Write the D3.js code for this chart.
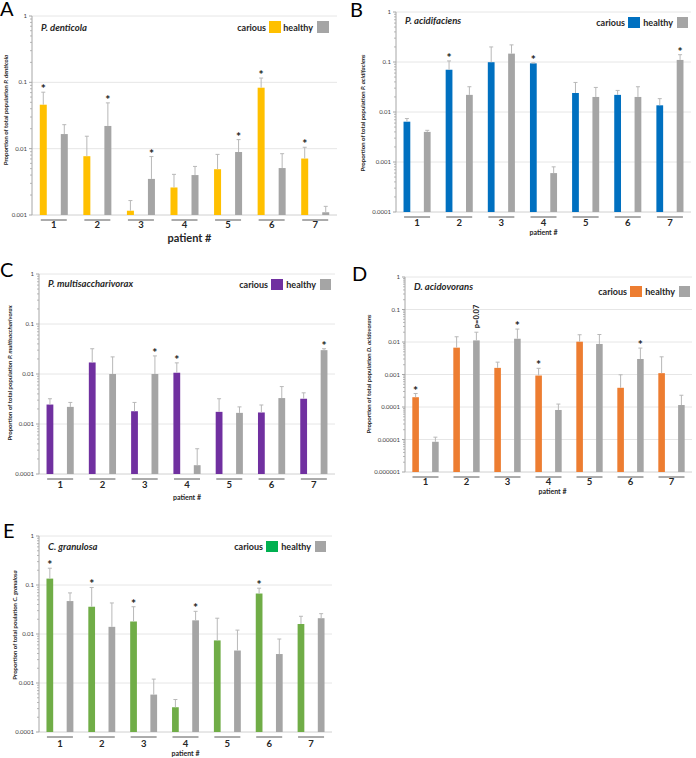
<!DOCTYPE html>
<html>
<head>
<meta charset="utf-8">
<script src="https://cdn.jsdelivr.net/npm/d3@7"></script>
<style>
  body { margin: 0; background: #fff; }
  text { font-family: Lato, "Open Sans", sans-serif; }
</style>
</head>
<body>
<svg id="chart"></svg>
<script>
// patients and groups
const patients = ["1", "2", "3", "4", "5", "6", "7"];
const groups = ["carious", "healthy"];
const grey = "#a5a5a5";

// A - P. denticola
const denticolaCarious    = [0.046, 0.0077, 0.00116, 0.0026, 0.0049, 0.083, 0.0071];
const denticolaCariousErr = [0.071, 0.0154, 0.00165, 0.0041, 0.0082, 0.116, 0.0105];
const denticolaHealthy    = [0.0166, 0.022, 0.0035, 0.0040, 0.0089, 0.0051, 0.0011];
const denticolaHealthyErr = [0.023, 0.049, 0.0076, 0.0054, 0.0137, 0.0084, 0.00135];
const denticolaStarC = [1, 0, 0, 0, 0, 1, 1];
const denticolaStarH = [0, 1, 1, 0, 1, 0, 0];

// B - P. acidifaciens
const acidifaciensCarious    = [0.0064, 0.070, 0.099, 0.094, 0.024, 0.022, 0.0136];
const acidifaciensCariousErr = [0.0074, 0.105, 0.20, 0.096, 0.039, 0.027, 0.0185];
const acidifaciensHealthy    = [0.0040, 0.022, 0.147, 0.0006, 0.020, 0.020, 0.11];
const acidifaciensHealthyErr = [0.0043, 0.032, 0.22, 0.0008, 0.031, 0.032, 0.14];
const acidifaciensStarC = [0, 1, 0, 1, 0, 0, 0];
const acidifaciensStarH = [0, 0, 0, 0, 0, 0, 1];

// C - P. multisaccharivorax
const multiCarious    = [0.00245, 0.017, 0.0018, 0.0106, 0.00175, 0.0017, 0.0032];
const multiCariousErr = [0.0032, 0.032, 0.0027, 0.0167, 0.0032, 0.0024, 0.0042];
const multiHealthy    = [0.0022, 0.010, 0.010, 0.00015, 0.00167, 0.0033, 0.030];
const multiHealthyErr = [0.0027, 0.022, 0.023, 0.00032, 0.0022, 0.0056, 0.032];
const multiStarC = [0, 0, 0, 1, 0, 0, 0];
const multiStarH = [0, 0, 1, 0, 0, 0, 1];

// D - D. acidovorans
const acidovoransCarious    = [0.00020, 0.0067, 0.0016, 0.00093, 0.0102, 0.00039, 0.0011];
const acidovoransCariousErr = [0.00026, 0.0145, 0.0024, 0.00155, 0.0167, 0.00098, 0.0035];
const acidovoransHealthy    = [0.0000085, 0.0112, 0.0126, 0.000081, 0.0087, 0.0030, 0.000115];
const acidovoransHealthyErr = [0.0000118, 0.020, 0.025, 0.000123, 0.017, 0.0065, 0.00023];
const acidovoransStarC = [1, 0, 0, 1, 0, 0, 0];
const acidovoransStarH = [0, 0, 1, 0, 0, 1, 0];
const acidovoransNoteH = ["", "p=0.07", "", "", "", "", ""];

// E - C. granulosa
const granulosaCarious    = [0.135, 0.036, 0.018, 0.00032, 0.0074, 0.067, 0.016];
const granulosaCariousErr = [0.22, 0.089, 0.036, 0.00046, 0.021, 0.086, 0.023];
const granulosaHealthy    = [0.047, 0.014, 0.00058, 0.019, 0.0046, 0.0039, 0.021];
const granulosaHealthyErr = [0.069, 0.043, 0.0012, 0.029, 0.012, 0.0079, 0.026];
const granulosaStarC = [1, 1, 1, 0, 0, 1, 0];
const granulosaStarH = [0, 0, 0, 1, 0, 0, 0];

const svg = d3.select("#chart").attr("width", 696).attr("height", 758);

const panels = [
  { letter: "A", lx: 0, ly: 16, species: "P. denticola", ylabel: "Proportion of total population ",
    color: "#ffc000", legendColor: "#ffc000",
    carious: denticolaCarious, cariousErr: denticolaCariousErr, healthy: denticolaHealthy, healthyErr: denticolaHealthyErr,
    starC: denticolaStarC, starH: denticolaStarH, domain: [0.001, 1],
    left: 32, right: 337, top: 16, bottom: 215, titleY: 31, legRight: 329, legTop: 21, legBox: 12,
    ylx: 8, yly: 110, catDy: 13, xlabelSize: 11, xlabelY: 242, xlabelDx: 5 },
  { letter: "B", lx: 350, ly: 17, species: "P. acidifaciens", ylabel: "Proportion of total population ",
    color: "#0070c0", legendColor: "#0070c0",
    carious: acidifaciensCarious, cariousErr: acidifaciensCariousErr, healthy: acidifaciensHealthy, healthyErr: acidifaciensHealthyErr,
    starC: acidifaciensStarC, starH: acidifaciensStarH, domain: [0.0001, 1],
    left: 396, right: 691, top: 12, bottom: 212, titleY: 24, legRight: 688, legTop: 17, legBox: 11,
    ylx: 365, yly: 113, catDy: 14, xlabelSize: 7, xlabelY: 235, xlabelDx: 0 },
  { letter: "C", lx: 0, ly: 277, species: "P. multisaccharivorax", ylabel: "Proportion of total population ",
    color: "#7030a0", legendColor: "#7030a0",
    carious: multiCarious, cariousErr: multiCariousErr, healthy: multiHealthy, healthyErr: multiHealthyErr,
    starC: multiStarC, starH: multiStarH, domain: [0.0001, 1],
    left: 39, right: 335, top: 274, bottom: 474, titleY: 287, legRight: 331, legTop: 279, legBox: 11,
    ylx: 12, yly: 373, catDy: 14, xlabelSize: 7, xlabelY: 500, xlabelDx: 0 },
  { letter: "D", lx: 352, ly: 281, species: "D. acidovorans", ylabel: "Proportion of total population  ",
    color: "#ed7d31", legendColor: "#ed7d31",
    carious: acidovoransCarious, cariousErr: acidovoransCariousErr, healthy: acidovoransHealthy, healthyErr: acidovoransHealthyErr,
    starC: acidovoransStarC, starH: acidovoransStarH, noteH: acidovoransNoteH, domain: [0.000001, 1],
    left: 405, right: 692, top: 277, bottom: 472, titleY: 290, legRight: 690, legTop: 286, legBox: 11,
    ylx: 371, yly: 374, catDy: 13, xlabelSize: 7, xlabelY: 494, xlabelDx: 4 },
  { letter: "E", lx: 3, ly: 538, species: "C. granulosa", ylabel: "Proportion of total poulation ",
    color: "#70ad47", legendColor: "#00b050",
    carious: granulosaCarious, cariousErr: granulosaCariousErr, healthy: granulosaHealthy, healthyErr: granulosaHealthyErr,
    starC: granulosaStarC, starH: granulosaStarH, domain: [0.0001, 1],
    left: 39, right: 332, top: 536, bottom: 732, titleY: 550, legRight: 326, legTop: 541, legBox: 11,
    ylx: 17, yly: 625, catDy: 15, xlabelSize: 7, xlabelY: 756, xlabelDx: 0 }
];

panels.forEach(drawPanel);

function tickLabel(v) {
  const e = Math.round(Math.log10(v));
  return e >= 0 ? "1" : v.toFixed(-e);
}

function drawPanel(p) {
  const g = svg.append("g");
  const y = d3.scaleLog().domain(p.domain).range([p.bottom, p.top]);
  const x0 = d3.scaleBand().domain(patients).range([p.left, p.right]);
  const x1 = d3.scaleBand().domain(groups).range([0, x0.bandwidth()])
    .paddingInner(0.667).paddingOuter(0.37);

  const lo = Math.round(Math.log10(p.domain[0]));
  const decades = d3.range(lo, 1).map(e => Math.pow(10, e));
  var minors = [];
  for (var e = lo; e < 0; e++) {
    for (var k = 2; k < 10; k++) minors.push(k * Math.pow(10, e));
  }

  // gridlines
  g.selectAll(".grid").data(decades.slice(1)).enter().append("line")
    .attr("x1", p.left).attr("x2", p.right)
    .attr("y1", d => y(d)).attr("y2", d => y(d))
    .attr("stroke", "#e6e6e6").attr("stroke-width", 1);
  // bottom baseline
  g.append("line").attr("x1", p.left).attr("x2", p.right)
    .attr("y1", p.bottom).attr("y2", p.bottom)
    .attr("stroke", "#d0d0d0");

  // y axis
  g.append("line").attr("x1", p.left).attr("x2", p.left)
    .attr("y1", p.top).attr("y2", p.bottom).attr("stroke", "#a6a6a6");
  g.selectAll(".mt").data(minors).enter().append("line")
    .attr("x1", p.left - 2).attr("x2", p.left)
    .attr("y1", d => y(d)).attr("y2", d => y(d))
    .attr("stroke", "#a6a6a6").attr("stroke-width", 0.8);
  g.selectAll(".Mt").data(decades).enter().append("line")
    .attr("x1", p.left - 3).attr("x2", p.left)
    .attr("y1", d => y(d)).attr("y2", d => y(d))
    .attr("stroke", "#a6a6a6");
  g.selectAll(".tl").data(decades).enter().append("text")
    .attr("x", p.left - 5).attr("y", d => y(d) + 2)
    .attr("text-anchor", "end").attr("font-size", 6).attr("fill", "#404040")
    .text(tickLabel);

  // bars
  const rows = patients.map((pt, i) => [
    { pt: pt, grp: "carious", v: p.carious[i], err: p.cariousErr[i], star: p.starC[i], note: "" },
    { pt: pt, grp: "healthy", v: p.healthy[i], err: p.healthyErr[i], star: p.starH[i], note: p.noteH ? p.noteH[i] : "" }
  ]).flat();
  const cx = d => x0(d.pt) + x1(d.grp) + x1.bandwidth() / 2;

  g.selectAll(".bar").data(rows).enter().append("rect")
    .attr("x", d => x0(d.pt) + x1(d.grp))
    .attr("y", d => y(d.v))
    .attr("width", x1.bandwidth())
    .attr("height", d => p.bottom - y(d.v))
    .attr("fill", d => d.grp == "carious" ? p.color : grey);

  // error bars
  g.selectAll(".eb").data(rows).enter().append("line")
    .attr("x1", cx).attr("x2", cx)
    .attr("y1", d => y(d.v)).attr("y2", d => y(d.err))
    .attr("stroke", "#b8b8b8").attr("stroke-width", 1);
  g.selectAll(".cap").data(rows).enter().append("line")
    .attr("x1", d => cx(d) - 2).attr("x2", d => cx(d) + 2)
    .attr("y1", d => y(d.err)).attr("y2", d => y(d.err))
    .attr("stroke", "#b8b8b8").attr("stroke-width", 1);

  // stars
  g.selectAll(".star").data(rows.filter(d => d.star)).enter().append("text")
    .attr("x", cx).attr("y", d => y(d.err) + 1)
    .attr("text-anchor", "middle").attr("font-size", 12).attr("font-weight", "bold")
    .attr("fill", "#222").text("*");
  // p value notes
  g.selectAll(".note").data(rows.filter(d => d.note)).enter().append("text")
    .attr("transform", d => "translate(" + (cx(d) + 3) + "," + (y(d.err) - 4) + ") rotate(-90)")
    .attr("font-size", 7.5).attr("font-weight", "bold").attr("fill", "#222")
    .text(d => d.note);

  // category underlines and labels
  g.selectAll(".ul").data(patients).enter().append("line")
    .attr("x1", d => x0(d) + x0.bandwidth() / 2 - 13)
    .attr("x2", d => x0(d) + x0.bandwidth() / 2 + 13)
    .attr("y1", p.bottom + 5).attr("y2", p.bottom + 5)
    .attr("stroke", "#595959").attr("stroke-width", 1);
  g.selectAll(".cl").data(patients).enter().append("text")
    .attr("x", d => x0(d) + x0.bandwidth() / 2)
    .attr("y", p.bottom + p.catDy)
    .attr("text-anchor", "middle").attr("font-size", 9.5).attr("font-weight", "bold")
    .attr("fill", "#262626").text(d => d);
  g.append("text")
    .attr("x", (p.left + p.right) / 2 + p.xlabelDx).attr("y", p.xlabelY)
    .attr("text-anchor", "middle").attr("font-size", p.xlabelSize).attr("font-weight", "bold")
    .attr("fill", "#262626").text("patient #");

  // y label
  const yl = g.append("text")
    .attr("transform", "translate(" + p.ylx + "," + p.yly + ") rotate(-90)")
    .attr("text-anchor", "middle").attr("font-size", 6).attr("font-weight", "bold")
    .attr("fill", "#262626");
  yl.append("tspan").text(p.ylabel);
  yl.append("tspan").attr("font-style", "italic").text(p.species);

  // title and panel letter
  g.append("text").attr("x", p.left + 9).attr("y", p.titleY)
    .attr("font-size", 9.5).attr("font-weight", "bold").attr("font-style", "italic")
    .attr("fill", "#262626").text(p.species);
  g.append("text").attr("x", p.lx).attr("y", p.ly)
    .attr("font-size", 20).attr("font-family", "'Liberation Sans', Arial, sans-serif")
    .attr("fill", "#000").text(p.letter);

  // legend
  const R = p.legRight, b = p.legBox;
  const leg = [
    { name: "carious", color: p.legendColor, boxX: R - 60, textEnd: R - 63 },
    { name: "healthy", color: grey, boxX: R - b, textEnd: R - b - 4 }
  ];
  g.selectAll(".lb").data(leg).enter().append("rect")
    .attr("x", d => d.boxX).attr("y", p.legTop)
    .attr("width", d => d.name == "carious" ? 12 : b).attr("height", b)
    .attr("fill", d => d.color);
  g.selectAll(".lt").data(leg).enter().append("text")
    .attr("x", d => d.textEnd).attr("y", p.legTop + b - 2.5)
    .attr("text-anchor", "end").attr("font-size", 9).attr("font-weight", "bold")
    .attr("fill", "#262626").text(d => d.name);
}
</script>
</body>
</html>
